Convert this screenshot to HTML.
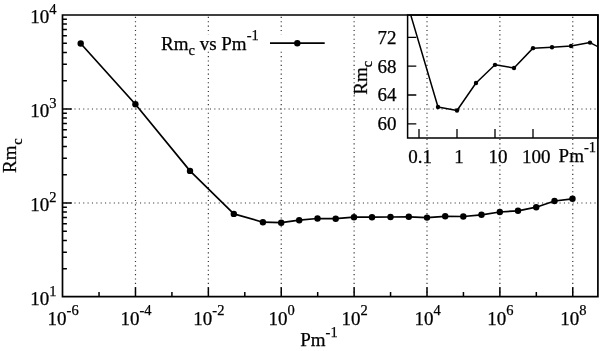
<!DOCTYPE html><html><head><meta charset="utf-8"><style>html,body{margin:0;padding:0;background:#fff;overflow:hidden}svg{display:block;will-change:transform}text{font-family:"Liberation Serif",serif;fill:#000;stroke:#000;stroke-width:0.25px}</style></head><body>
<svg width="600" height="351" viewBox="0 0 600 351">
<rect width="600" height="351" fill="#fff"/>
<path d="M135.48 296.70V15.00 M208.36 296.70V15.00 M281.24 296.70V15.00 M354.12 296.70V15.00 M427.00 296.70V15.00 M499.88 296.70V15.00 M572.76 296.70V15.00" stroke="#333" stroke-width="1.2" stroke-dasharray="1.1 3.26" stroke-dashoffset="0.29" fill="none"/>
<path d="M62.50 203.00H597.90 M62.50 109.00H597.90" stroke="#333" stroke-width="1.2" stroke-dasharray="1.1 3.27" stroke-dashoffset="5.53" fill="none"/>
<rect x="150" y="34.3" width="185" height="16.2" fill="#fff"/>
<path d="M62.50 268.70h4.4 M62.50 252.15h4.4 M62.50 240.41h4.4 M62.50 231.30h4.4 M62.50 223.85h4.4 M62.50 217.56h4.4 M62.50 212.11h4.4 M62.50 207.30h4.4 M62.50 203.00h9.3 M62.50 174.70h4.4 M62.50 158.15h4.4 M62.50 146.41h4.4 M62.50 137.30h4.4 M62.50 129.85h4.4 M62.50 123.56h4.4 M62.50 118.11h4.4 M62.50 113.30h4.4 M62.50 109.00h9.3 M62.50 80.70h4.4 M62.50 64.15h4.4 M62.50 52.41h4.4 M62.50 43.30h4.4 M62.50 35.85h4.4 M62.50 29.56h4.4 M62.50 24.11h4.4 M62.50 19.30h4.4 M99.04 296.70v-4.6 M135.48 296.70v-9.5 M171.92 296.70v-4.6 M208.36 296.70v-9.5 M244.80 296.70v-4.6 M281.24 296.70v-9.5 M317.68 296.70v-4.6 M354.12 296.70v-9.5 M390.56 296.70v-4.6 M427.00 296.70v-9.5 M463.44 296.70v-4.6 M499.88 296.70v-9.5 M536.32 296.70v-4.6 M572.76 296.70v-9.5" stroke="#000" stroke-width="1.5" fill="none"/>
<path d="M62.5 15.0V296.7H597.9V15.0Z" stroke="#000" stroke-width="1.7" fill="none" stroke-linejoin="miter"/>
<polyline points="80.7,43.5 135.4,104.3 190.0,170.9 233.8,213.9 262.9,222.2 281.2,222.7 299.2,220.2 317.5,218.5 335.7,218.7 354.0,217.2 372.0,217.2 390.5,217.0 408.8,216.8 427.0,217.6 445.2,216.3 463.3,216.5 481.5,214.8 499.8,212.0 518.0,210.8 536.2,207.2 554.5,201.0 572.5,198.8" stroke="#000" stroke-width="1.7" fill="none" stroke-linejoin="round"/>
<circle cx="80.7" cy="43.5" r="3.2"/>
<circle cx="135.4" cy="104.3" r="3.2"/>
<circle cx="190.0" cy="170.9" r="3.2"/>
<circle cx="233.8" cy="213.9" r="3.2"/>
<circle cx="262.9" cy="222.2" r="3.2"/>
<circle cx="281.2" cy="222.7" r="3.2"/>
<circle cx="299.2" cy="220.2" r="3.2"/>
<circle cx="317.5" cy="218.5" r="3.2"/>
<circle cx="335.7" cy="218.7" r="3.2"/>
<circle cx="354.0" cy="217.2" r="3.2"/>
<circle cx="372.0" cy="217.2" r="3.2"/>
<circle cx="390.5" cy="217.0" r="3.2"/>
<circle cx="408.8" cy="216.8" r="3.2"/>
<circle cx="427.0" cy="217.6" r="3.2"/>
<circle cx="445.2" cy="216.3" r="3.2"/>
<circle cx="463.3" cy="216.5" r="3.2"/>
<circle cx="481.5" cy="214.8" r="3.2"/>
<circle cx="499.8" cy="212.0" r="3.2"/>
<circle cx="518.0" cy="210.8" r="3.2"/>
<circle cx="536.2" cy="207.2" r="3.2"/>
<circle cx="554.5" cy="201.0" r="3.2"/>
<circle cx="572.5" cy="198.8" r="3.2"/>
<path d="M270 43.2H324.7" stroke="#000" stroke-width="1.7"/><circle cx="297.3" cy="43.2" r="3.2"/>
<text x="161" y="49.7" font-size="19">Rm<tspan font-size="14.5" dy="5">c</tspan><tspan dy="-5"> vs Pm</tspan><tspan font-size="14.5" dy="-9.4">-1</tspan></text>
<text x="56.5" y="305.30" font-size="19" text-anchor="end">10<tspan font-size="14.5" dy="-9.6">1</tspan></text>
<text x="56.5" y="211.30" font-size="19" text-anchor="end">10<tspan font-size="14.5" dy="-9.6">2</tspan></text>
<text x="56.5" y="117.30" font-size="19" text-anchor="end">10<tspan font-size="14.5" dy="-9.6">3</tspan></text>
<text x="56.5" y="23.30" font-size="19" text-anchor="end">10<tspan font-size="14.5" dy="-9.6">4</tspan></text>
<text x="63.10" y="324.7" font-size="19" text-anchor="middle">10<tspan font-size="14.5" dy="-9.4">-6</tspan></text>
<text x="135.98" y="324.7" font-size="19" text-anchor="middle">10<tspan font-size="14.5" dy="-9.4">-4</tspan></text>
<text x="208.86" y="324.7" font-size="19" text-anchor="middle">10<tspan font-size="14.5" dy="-9.4">-2</tspan></text>
<text x="281.74" y="324.7" font-size="19" text-anchor="middle">10<tspan font-size="14.5" dy="-9.4">0</tspan></text>
<text x="354.62" y="324.7" font-size="19" text-anchor="middle">10<tspan font-size="14.5" dy="-9.4">2</tspan></text>
<text x="427.50" y="324.7" font-size="19" text-anchor="middle">10<tspan font-size="14.5" dy="-9.4">4</tspan></text>
<text x="500.38" y="324.7" font-size="19" text-anchor="middle">10<tspan font-size="14.5" dy="-9.4">6</tspan></text>
<text x="573.26" y="324.7" font-size="19" text-anchor="middle">10<tspan font-size="14.5" dy="-9.4">8</tspan></text>
<text x="300.2" y="346.3" font-size="19">Pm<tspan font-size="14.5" dy="-9.4">-1</tspan></text>
<text transform="translate(15.8 173) rotate(-90)" font-size="19">Rm<tspan font-size="14.5" dx="0.8" dy="6">c</tspan></text>
<defs><clipPath id="ci"><rect x="407.6" y="15.0" width="190.29999999999995" height="123.1"/></clipPath></defs>
<path d="M407.6 123.80h8.7 M407.6 95.00h8.7 M407.6 66.20h8.7 M407.6 37.40h8.7 M419.00 138.1v-9 M457.00 138.1v-9 M495.00 138.1v-9 M533.00 138.1v-9" stroke="#000" stroke-width="1.3" fill="none"/>
<path d="M407.6 15.0V138.1H597.9V15.0Z" stroke="#000" stroke-width="1.5" fill="none"/>
<g clip-path="url(#ci)"><polyline points="407.56,4.28 438.00,107.02 457.00,110.48 476.00,82.98 495.00,64.83 514.00,67.93 533.00,48.13 552.00,47.26 571.00,46.04 590.00,42.58 609.00,52.52" stroke="#000" stroke-width="1.5" fill="none" stroke-linejoin="round"/>
<circle cx="438.00" cy="107.02" r="2.2"/>
<circle cx="457.00" cy="110.48" r="2.2"/>
<circle cx="476.00" cy="82.98" r="2.2"/>
<circle cx="495.00" cy="64.83" r="2.2"/>
<circle cx="514.00" cy="67.93" r="2.2"/>
<circle cx="533.00" cy="48.13" r="2.2"/>
<circle cx="552.00" cy="47.26" r="2.2"/>
<circle cx="571.00" cy="46.04" r="2.2"/>
<circle cx="590.00" cy="42.58" r="2.2"/>
</g>
<text x="396.5" y="130.10" font-size="19" text-anchor="end">60</text>
<text x="396.5" y="101.30" font-size="19" text-anchor="end">64</text>
<text x="396.5" y="72.50" font-size="19" text-anchor="end">68</text>
<text x="396.5" y="43.70" font-size="19" text-anchor="end">72</text>
<text x="420.00" y="163.3" font-size="19" text-anchor="middle">0.1</text>
<text x="459.00" y="163.3" font-size="19" text-anchor="middle">1</text>
<text x="498.00" y="163.3" font-size="19" text-anchor="middle">10</text>
<text x="536.20" y="163.3" font-size="19" text-anchor="middle">100</text>
<text x="558.6" y="161.7" font-size="19">Pm<tspan font-size="14.5" dy="-9.4">-1</tspan></text>
<text transform="translate(367.2 94.7) rotate(-90)" font-size="19">Rm<tspan font-size="14.5" dy="5">c</tspan></text>
</svg></body></html>
